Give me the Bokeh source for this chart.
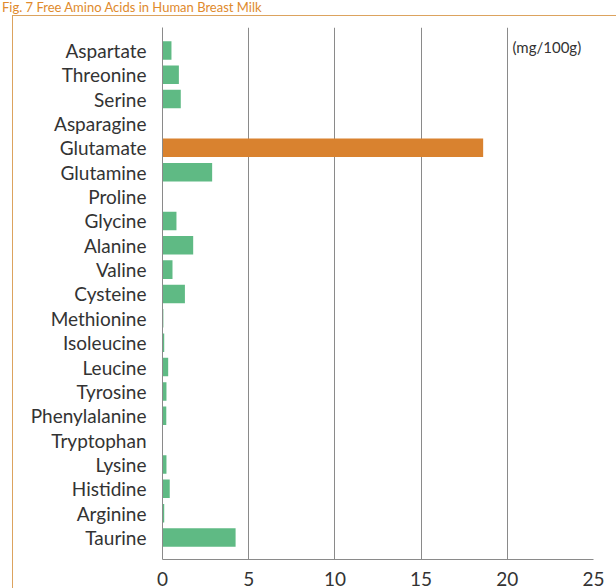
from bokeh.plotting import figure
from bokeh.models import Range1d, FixedTicker, Label, ColumnDataSource, InlineStyleSheet, Div
from bokeh.layouts import column
from bokeh.embed import file_html
from bokeh.resources import INLINE

amino_acids = ["Aspartate", "Threonine", "Serine", "Asparagine", "Glutamate", "Glutamine",
               "Proline", "Glycine", "Alanine", "Valine", "Cysteine", "Methionine",
               "Isoleucine", "Leucine", "Tyrosine", "Phenylalanine", "Tryptophan",
               "Lysine", "Histidine", "Arginine", "Taurine"]
values = [0.52, 0.95, 1.06, 0.0, 18.6, 2.88, 0.0, 0.81, 1.78, 0.58, 1.3, 0.05,
          0.1, 0.33, 0.23, 0.22, 0.0, 0.23, 0.42, 0.1, 4.24]
highlight = "Glutamate"
x_ticks = [0, 5, 10, 15, 20, 25]
title = "Fig. 7 Free Amino Acids in Human Breast Milk"
unit = "(mg/100g)"

GREEN = "#5fba84"
ORANGE = "#d9822f"
FONT = "Lato"

pos = list(range(len(amino_acids)))
colors = [ORANGE if a == highlight else GREEN for a in amino_acids]
src = ColumnDataSource(dict(y=pos, v=values, c=colors))

head = Div(text=title, width=616, height=15, margin=0,
           styles={"color": "#e08a2c", "font-family": "Lato", "font-size": "13px",
                   "line-height": "15px", "padding-left": "2px", "white-space": "nowrap",
                   "background-color": "white"})

p = figure(width=616, height=573, output_backend="svg", toolbar_location=None,
           x_range=Range1d(0, 25), y_range=Range1d(len(amino_acids) - 0.1, -0.94),
           min_border_left=162, min_border_right=23, min_border_top=12, min_border_bottom=29,
           margin=0)

p.outline_line_color = None
p.background_fill_color = "white"
p.border_fill_color = "white"

p.hbar(y="y", left=0, right="v", height=0.76, fill_color="c", line_color=None, source=src)

p.xgrid.ticker = FixedTicker(ticks=[5, 10, 15, 20])
p.xgrid.grid_line_color = "#8a8a8a"
p.xgrid.grid_line_width = 1
p.ygrid.grid_line_color = None

p.xaxis.ticker = FixedTicker(ticks=x_ticks)
p.xaxis.major_tick_line_color = None
p.xaxis.minor_tick_line_color = None
p.xaxis.axis_line_color = "#8a8a8a"
p.xaxis.major_label_text_font = FONT
p.xaxis.major_label_text_font_size = "19px"
p.xaxis.major_label_text_color = "#333333"
p.xaxis.major_label_standoff = 6

p.yaxis.ticker = FixedTicker(ticks=pos)
p.yaxis.major_label_overrides = {i: a for i, a in enumerate(amino_acids)}
p.yaxis.major_tick_line_color = None
p.yaxis.minor_tick_line_color = None
p.yaxis.axis_line_color = "#8a8a8a"
p.yaxis.major_label_text_font = FONT
p.yaxis.major_label_text_font_size = "19px"
p.yaxis.major_label_text_color = "#333333"
p.yaxis.major_label_standoff = 10

p.add_layout(Label(x=20.3, y=-0.15, text=unit, text_font=FONT, text_font_size="15px",
                   text_color="#333333", text_baseline="middle"))

p.stylesheets = [InlineStyleSheet(css="""
:host::after {
  content: '';
  position: absolute;
  left: 12px; top: 0px; right: 0px; bottom: 0px;
  border-left: 1.5px solid #dca35e;
  border-top: 1.5px solid #dca35e;
  pointer-events: none;
}
""")]

layout = column(head, p, spacing=0, margin=0)

open("out.html", "w").write(file_html(layout, INLINE))
